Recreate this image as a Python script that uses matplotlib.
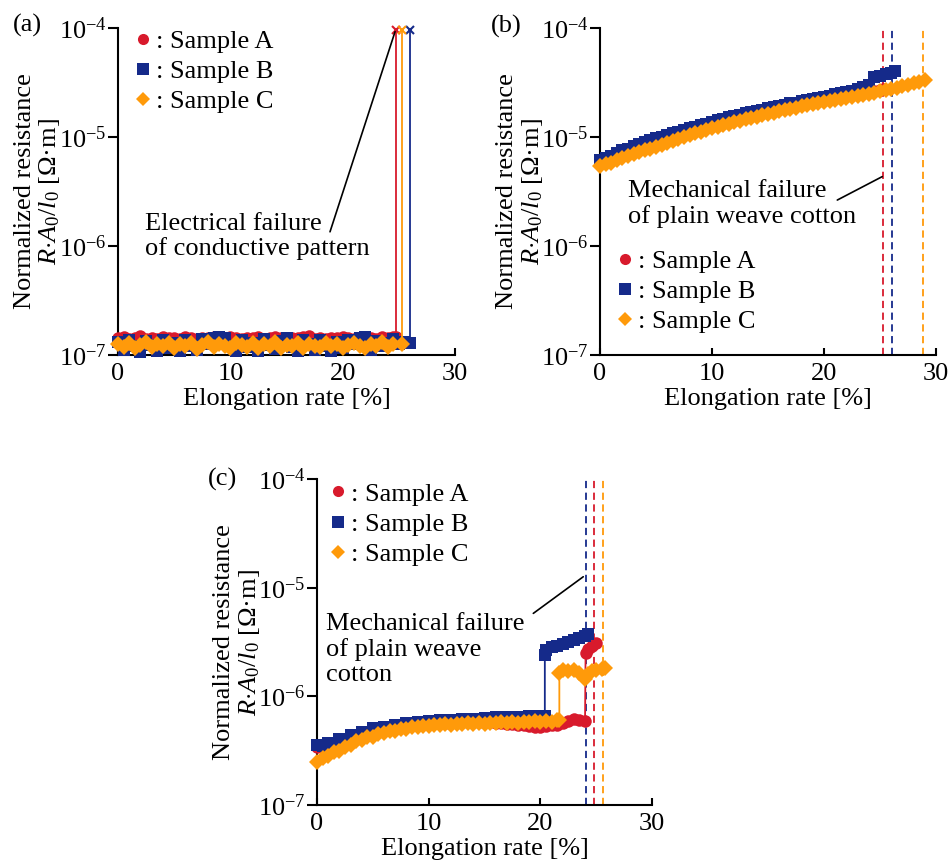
import matplotlib
matplotlib.use("Agg")
import matplotlib.pyplot as plt
from matplotlib.lines import Line2D
from matplotlib.ticker import NullLocator

plt.rcParams['font.family'] = ['Liberation Serif', 'DejaVu Serif']
plt.rcParams['mathtext.fontset'] = 'custom'
plt.rcParams['mathtext.rm'] = 'Liberation Serif'
plt.rcParams['mathtext.it'] = 'Liberation Serif:italic'
plt.rcParams['font.size'] = 19

RED = '#d81a2c'
BLUE = '#152a8a'
ORANGE = '#ff9a0a'

# ---------------- panel (a) : values x 1e-7 ----------------
xa = [0.0, 0.5, 1.0, 1.5, 2.0, 2.5, 3.0, 3.5, 4.0, 4.5,
      5.0, 5.5, 6.0, 6.5, 7.0, 7.5, 8.0, 8.5, 9.0, 9.5,
      10.0, 10.5, 11.0, 11.5, 12.0, 12.5, 13.0, 13.5, 14.0, 14.5,
      15.0, 15.5, 16.0, 16.5, 17.0, 17.5, 18.0, 18.5, 19.0, 19.5,
      20.0, 20.5, 21.0, 21.5, 22.0, 22.5, 23.0, 23.5, 24.0, 24.5]
a_A = [1.42, 1.47, 1.40, 1.44, 1.48, 1.41, 1.43, 1.40, 1.46, 1.42,
       1.44, 1.41, 1.47, 1.43, 1.40, 1.44, 1.42, 1.46, 1.41, 1.43,
       1.46, 1.42, 1.40, 1.44, 1.43, 1.46, 1.41, 1.42, 1.47, 1.43,
       1.40, 1.44, 1.42, 1.46, 1.48, 1.41, 1.43, 1.40, 1.44, 1.42,
       1.46, 1.43, 1.41, 1.44, 1.47, 1.42, 1.40, 1.46, 1.43, 1.45]
a_B = [1.32, 1.12, 1.38, 1.20, 1.07, 1.35, 1.24, 1.10, 1.38, 1.16,
       1.30, 1.09, 1.36, 1.21, 1.12, 1.40, 1.25, 1.44, 1.46, 1.42,
       1.22, 1.10, 1.37, 1.18, 1.30, 1.08, 1.39, 1.24, 1.13, 1.35,
       1.42, 1.19, 1.09, 1.38, 1.27, 1.12, 1.36, 1.22, 1.08, 1.33,
       1.16, 1.38, 1.25, 1.44, 1.46, 1.11, 1.35, 1.20, 1.30, 1.40]
a_C = [1.25, 1.19, 1.29, 1.15, 1.23, 1.31, 1.18, 1.25, 1.20, 1.28,
       1.16, 1.25, 1.21, 1.30, 1.14, 1.24, 1.32, 1.19, 1.27, 1.21,
       1.16, 1.28, 1.23, 1.18, 1.29, 1.15, 1.25, 1.21, 1.31, 1.17,
       1.24, 1.20, 1.28, 1.16, 1.27, 1.22, 1.18, 1.30, 1.21, 1.26,
       1.15, 1.24, 1.29, 1.20, 1.17, 1.27, 1.22, 1.31, 1.19, 1.25]
# tail points before failure
a_A_tail_x, a_A_tail_y = [24.75], [1.45]
a_B_tail_x, a_B_tail_y = [25.0, 25.5, 26.0], [1.26, 1.32, 1.30]
a_C_tail_x, a_C_tail_y = [25.25], [1.25]
# electrical failure (open circuit, plotted at top of axis)
a_fail_x = [24.75, 26.0, 25.25]
a_fail_y = [9.5e-5, 9.5e-5, 9.5e-5]

# ---------------- panel (b) : values x 1e-5 ----------------
xb = [0.0, 0.5, 1.0, 1.5, 2.0, 2.5, 3.0, 3.5, 4.0, 4.5,
      5.0, 5.5, 6.0, 6.5, 7.0, 7.5, 8.0, 8.5, 9.0, 9.5,
      10.0, 10.5, 11.0, 11.5, 12.0, 12.5, 13.0, 13.5, 14.0, 14.5,
      15.0, 15.5, 16.0, 16.5, 17.0, 17.5, 18.0, 18.5, 19.0, 19.5,
      20.0, 20.5, 21.0, 21.5, 22.0, 22.5, 23.0, 23.5, 24.0]
b_A = [0.60, 0.62, 0.65, 0.70, 0.74, 0.76, 0.80, 0.83, 0.87, 0.90,
       0.94, 0.97, 1.01, 1.05, 1.09, 1.12, 1.16, 1.20, 1.25, 1.29,
       1.34, 1.38, 1.43, 1.46, 1.51, 1.55, 1.60, 1.64, 1.69, 1.73,
       1.78, 1.82, 1.87, 1.91, 1.96, 2.00, 2.05, 2.09, 2.14, 2.18,
       2.23, 2.27, 2.33, 2.38, 2.43, 2.48, 2.53, 2.57, 2.62]
b_B = [0.62, 0.64, 0.67, 0.72, 0.76, 0.78, 0.83, 0.86, 0.90, 0.93,
       0.97, 1.00, 1.04, 1.08, 1.12, 1.15, 1.20, 1.24, 1.29, 1.33,
       1.38, 1.42, 1.47, 1.51, 1.56, 1.60, 1.65, 1.69, 1.74, 1.78,
       1.83, 1.88, 1.93, 1.97, 2.03, 2.07, 2.13, 2.17, 2.23, 2.28,
       2.34, 2.39, 2.46, 2.52, 2.60, 2.66, 2.76, 2.85, 3.00]
b_C = [0.54, 0.56, 0.58, 0.61, 0.64, 0.67, 0.70, 0.73, 0.76, 0.78,
       0.81, 0.85, 0.88, 0.92, 0.96, 1.00, 1.04, 1.08, 1.12, 1.16,
       1.20, 1.24, 1.28, 1.33, 1.37, 1.41, 1.45, 1.50, 1.54, 1.58,
       1.63, 1.67, 1.72, 1.76, 1.81, 1.86, 1.91, 1.96, 2.00, 2.05,
       2.10, 2.15, 2.20, 2.25, 2.30, 2.35, 2.40, 2.45, 2.50]
b_A_tail_x, b_A_tail_y = [24.5, 25.0, 25.3], [2.66, 2.71, 2.75]
b_B_tail_x, b_B_tail_y = [24.5, 25.0, 25.5, 26.0, 26.3], [3.55, 3.65, 3.75, 3.90, 4.00]
b_C_tail_x = [24.5, 25.0, 25.5, 26.0, 26.5, 27.0, 27.5, 28.0, 28.5, 29.0]
b_C_tail_y = [2.56, 2.62, 2.68, 2.75, 2.83, 2.92, 3.00, 3.10, 3.22, 3.33]
b_fail_x = [25.3, 26.05, 28.8]  # mechanical failure A, B, C

# ---------------- panel (c) : values x 1e-7 ----------------
xc = [0.0, 0.5, 1.0, 1.5, 2.0, 2.5, 3.0, 3.5, 4.0, 4.5,
      5.0, 5.5, 6.0, 6.5, 7.0, 7.5, 8.0, 8.5, 9.0, 9.5,
      10.0, 10.5, 11.0, 11.5, 12.0, 12.5, 13.0, 13.5, 14.0, 14.5,
      15.0, 15.5, 16.0, 16.5, 17.0, 17.5, 18.0, 18.5, 19.0, 19.5, 20.0]
c_A = [3.45, 3.50, 3.60, 3.75, 3.90, 4.05, 4.20, 4.35, 4.50, 4.65,
       4.80, 4.90, 5.00, 5.10, 5.20, 5.30, 5.40, 5.45, 5.50, 5.55,
       5.60, 5.65, 5.70, 5.70, 5.75, 5.75, 5.80, 5.80, 5.80, 5.85,
       5.80, 5.75, 5.70, 5.65, 5.60, 5.55, 5.50, 5.40, 5.35, 5.25, 5.20]
c_B = [3.57, 3.50, 3.75, 3.70, 4.05, 4.00, 4.40, 4.30, 4.70, 4.60,
       5.10, 4.90, 5.20, 5.10, 5.40, 5.30, 5.65, 5.50, 5.80, 5.65,
       5.90, 5.80, 6.00, 5.85, 6.05, 5.95, 6.20, 6.05, 6.25, 6.15,
       6.35, 6.20, 6.40, 6.30, 6.45, 6.35, 6.50, 6.40, 6.55, 6.45, 6.55]
c_C = [2.50, 2.70, 2.80, 3.05, 3.15, 3.45, 3.55, 3.85, 3.95, 4.20,
       4.25, 4.50, 4.55, 4.80, 4.80, 5.00, 5.00, 5.20, 5.20, 5.35,
       5.35, 5.50, 5.45, 5.55, 5.50, 5.60, 5.55, 5.65, 5.60, 5.70,
       5.60, 5.70, 5.65, 5.75, 5.65, 5.80, 5.70, 5.85, 5.75, 5.90, 5.80]
c_A_tail_x = [20.5, 21.0, 21.5, 22.0, 22.5, 23.0, 23.5, 24.0, 24.05, 24.3, 24.6, 25.0]
c_A_tail_y = [5.30, 5.40, 5.50, 5.70, 5.90, 6.20, 6.10, 5.90, 25.0, 27.0, 29.0, 31.0]
c_B_tail_x = [20.4, 20.4, 20.5, 21.0, 21.5, 22.0, 22.5, 23.0, 23.5, 24.0, 24.3]
c_B_tail_y = [6.60, 24.0, 26.5, 28.5, 29.0, 30.0, 31.5, 33.0, 34.5, 36.0, 37.5]
c_C_tail_x = [20.5, 21.0, 21.5, 21.7, 21.7, 22.0, 22.5, 23.0, 23.5, 24.0, 24.3, 24.6, 25.0, 25.5, 25.8]
c_C_tail_y = [5.95, 5.85, 6.00, 6.00, 16.5, 17.5, 17.0, 17.5, 16.5, 14.5, 16.0, 17.0, 17.5, 17.8, 18.2]
c_fail_x = [24.83, 24.05, 25.64]  # mechanical failure A, B, C

samples = ['Sample A', 'Sample B', 'Sample C']
colors = [RED, BLUE, ORANGE]
markers = ['o', 's', 'D']
msizes = [9.0, 9.0, 8.0]
leg_sizes = [8.0, 8.0, 7.5]


def style_axis(ax):
    ax.set_yscale('log')
    ax.set_xlim(0, 30)
    ax.set_ylim(1e-7, 1e-4)
    ax.set_xticks([0, 10, 20, 30])
    ax.set_yticks([1e-7, 1e-6, 1e-5, 1e-4])
    ax.yaxis.set_minor_locator(NullLocator())
    for s in ['top', 'right']:
        ax.spines[s].set_visible(False)
    for s in ['left', 'bottom']:
        ax.spines[s].set_linewidth(1.5)
    ax.tick_params(axis='x', direction='in', length=5, width=1.5, pad=6)
    ax.tick_params(axis='y', direction='out', length=7, width=1.5, pad=1)
    ax.set_xlabel('Elongation rate [%]')
    ax.xaxis.set_label_coords(0.5, -0.1)
    ax.set_ylabel('Normalized resistance\n$R{\\cdot}A_0/l_0$ [Ω·m]', linespacing=1.1)
    ax.yaxis.set_label_coords(-0.165, 0.5)


def plot_series(ax, x, y, scale, i):
    ax.plot(x, [v * scale for v in y], color=colors[i], marker=markers[i],
            ms=msizes[i], mew=0, lw=1.3, clip_on=False, zorder=3 + i)


def add_legend(ax, anchor):
    handles = [Line2D([], [], color=colors[i], marker=markers[i], ls='none',
                      ms=leg_sizes[i], mew=0) for i in range(3)]
    ax.legend(handles, [': ' + s for s in samples], loc='upper left',
              bbox_to_anchor=anchor, frameon=False, borderpad=0,
              borderaxespad=0, handlelength=0.5, handletextpad=0.25,
              labelspacing=0.25)


fig = plt.figure(figsize=(9.48, 8.64), dpi=100)
ax_a = fig.add_axes([0.1245, 0.5891, 0.3555, 0.3785])
ax_b = fig.add_axes([0.6329, 0.5891, 0.3544, 0.3785])
ax_c = fig.add_axes([0.3344, 0.0683, 0.3534, 0.3773])

# (a)
data_a = [(a_A, a_A_tail_x, a_A_tail_y), (a_B, a_B_tail_x, a_B_tail_y),
          (a_C, a_C_tail_x, a_C_tail_y)]
for i, (vals, tx, ty) in enumerate(data_a):
    plot_series(ax_a, xa + tx, vals + ty, 1e-7, i)
    ax_a.plot([tx[-1], a_fail_x[i]], [ty[-1] * 1e-7, a_fail_y[i]],
              color=colors[i], lw=1.3, zorder=3 + i)
    ax_a.plot([a_fail_x[i]], [a_fail_y[i]], color=colors[i], marker='x',
              ms=6, mew=1.5, ls='none', clip_on=False, zorder=3 + i)
style_axis(ax_a)
add_legend(ax_a, (0.055, 0.995))
ax_a.text(2.4, 1.22e-6, 'Electrical failure\nof conductive pattern',
          va='center', ha='left', linespacing=1.15)
ax_a.annotate('', xy=(24.66, 9.25e-5), xytext=(18.87, 1.35e-6),
              arrowprops=dict(arrowstyle='-', lw=1.2, color='k',
                              shrinkA=0, shrinkB=0))

# (b)
data_b = [(b_A, b_A_tail_x, b_A_tail_y), (b_B, b_B_tail_x, b_B_tail_y),
          (b_C, b_C_tail_x, b_C_tail_y)]
for i, (vals, tx, ty) in enumerate(data_b):
    plot_series(ax_b, xb + tx, vals + ty, 1e-5, i)
    ax_b.axvline(b_fail_x[i], color=colors[i], ls=(0, (4, 2.5)), lw=1.3, zorder=2)
style_axis(ax_b)
add_legend(ax_b, (0.055, 0.322))
ax_b.text(2.5, 2.43e-6, 'Mechanical failure\nof plain weave cotton',
          va='center', ha='left', linespacing=1.15)
ax_b.annotate('', xy=(25.2, 4.33e-6), xytext=(21.19, 2.64e-6),
              arrowprops=dict(arrowstyle='-', lw=1.2, color='k',
                              shrinkA=0, shrinkB=0))

# (c)
data_c = [(c_A, c_A_tail_x, c_A_tail_y), (c_B, c_B_tail_x, c_B_tail_y),
          (c_C, c_C_tail_x, c_C_tail_y)]
for i, (vals, tx, ty) in enumerate(data_c):
    plot_series(ax_c, xc + tx, vals + ty, 1e-7, i)
    ax_c.axvline(c_fail_x[i], color=colors[i], ls=(0, (4, 2.5)), lw=1.3, zorder=2)
style_axis(ax_c)
add_legend(ax_c, (0.042, 0.99))
ax_c.text(0.8, 2.7e-6, 'Mechanical failure\nof plain weave\ncotton',
          va='center', ha='left', linespacing=1.15)
ax_c.annotate('', xy=(23.84, 1.26e-5), xytext=(19.37, 5.8e-6),
              arrowprops=dict(arrowstyle='-', lw=1.2, color='k',
                              shrinkA=0, shrinkB=0))

fig.text(0.0285, 0.970, '(a)', ha='center', va='center')
fig.text(0.5338, 0.969, '(b)', ha='center', va='center')
fig.text(0.2342, 0.4456, '(c)', ha='center', va='center')

fig.savefig('out.png', dpi=100)
